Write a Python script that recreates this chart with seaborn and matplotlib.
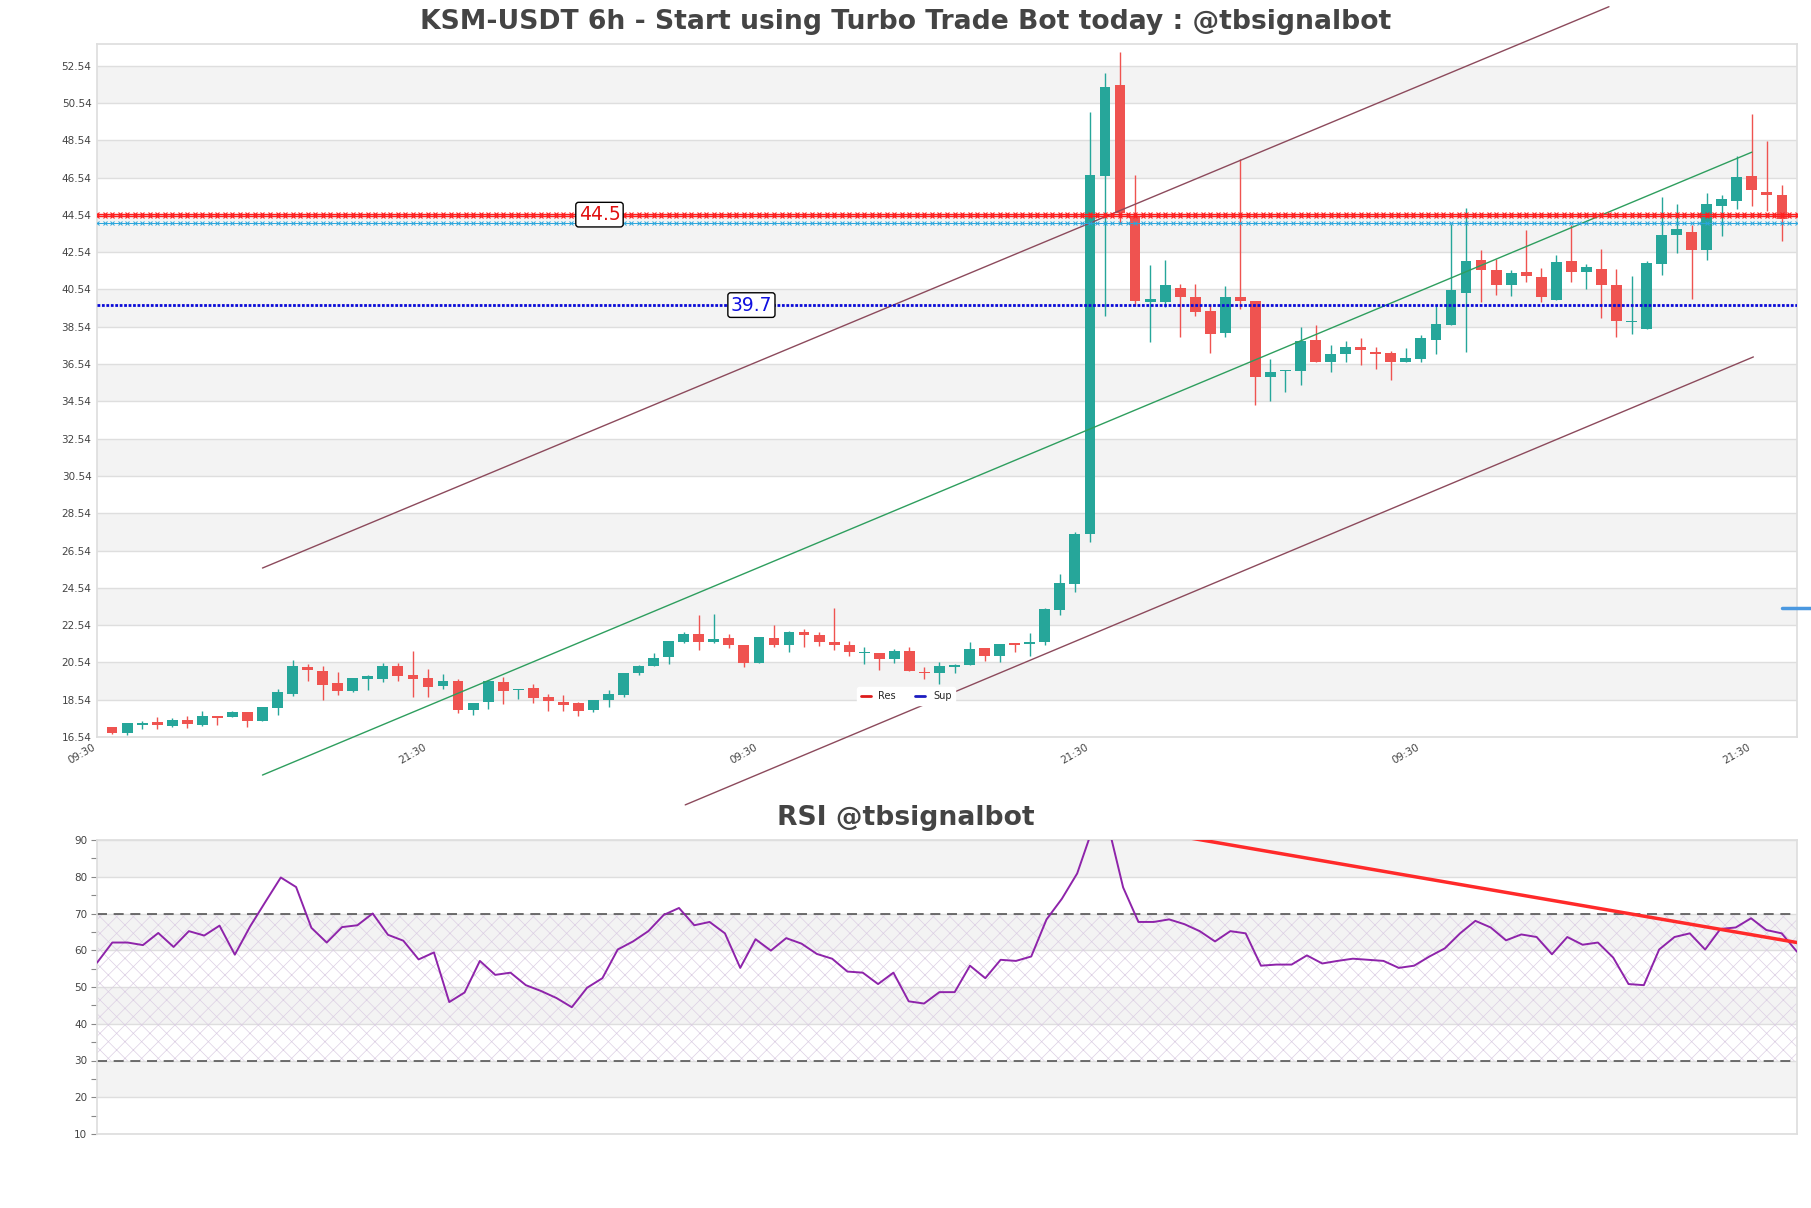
import numpy as np
import pandas as pd
import matplotlib
matplotlib.use("Agg")
import matplotlib.pyplot as plt
from matplotlib.lines import Line2D
import seaborn as sns

sns.set_theme(style="white")
plt.rcParams['font.family'] = ['DejaVu Sans']
plt.rcParams['hatch.linewidth'] = 0.5

# candles (6h)
opens = [17.06, 16.76, 17.19, 17.37, 17.13, 17.47, 17.17, 17.65, 17.62, 17.87,
         17.40, 18.10, 18.86, 20.29, 20.08, 19.43, 19.02, 19.67, 19.67, 20.35,
         19.86, 19.70, 19.27, 19.56, 18.00, 18.43, 19.49, 19.07, 19.16, 18.68,
         18.41, 18.35, 18.00, 18.50, 18.77, 19.95, 20.36, 20.81, 21.61, 22.08,
         21.63, 21.86, 21.49, 20.52, 21.86, 21.50, 22.18, 22.02, 21.65, 21.49,
         21.02, 21.04, 20.70, 21.16, 20.02, 19.95, 20.27, 20.38, 21.31, 20.86,
         21.56, 21.52, 21.66, 23.33, 24.75, 27.45, 46.62, 51.48, 44.47, 39.85,
         39.85, 40.64, 40.16, 39.40, 38.19, 40.12, 39.94, 35.86, 36.15, 36.18,
         37.85, 36.67, 37.10, 37.47, 37.20, 37.15, 36.63, 36.79, 37.81, 38.62,
         40.37, 42.12, 41.57, 40.76, 41.48, 41.22, 39.99, 42.07, 41.46, 41.64,
         40.78, 38.78, 38.42, 41.90, 43.44, 43.62, 42.64, 44.99, 45.27, 46.62,
         45.77, 45.61]
highs = [17.10, 17.31, 17.38, 17.60, 17.58, 17.64, 17.92, 17.65, 17.92, 17.87,
         18.14, 19.11, 20.67, 20.46, 20.33, 20.02, 19.70, 19.85, 20.51, 20.53,
         21.16, 20.19, 19.92, 19.67, 18.35, 19.59, 19.76, 19.13, 19.36, 18.84,
         18.77, 18.44, 18.52, 19.05, 19.99, 20.41, 21.04, 21.70, 22.17, 23.09,
         23.15, 22.08, 21.49, 21.91, 22.54, 22.25, 22.33, 22.17, 23.47, 21.70,
         21.36, 21.04, 21.25, 21.36, 20.29, 20.56, 20.47, 21.65, 21.31, 21.52,
         21.56, 22.09, 23.45, 25.29, 27.55, 50.03, 52.15, 53.26, 46.65, 41.87,
         42.14, 40.84, 40.84, 39.73, 40.73, 47.51, 39.94, 36.83, 36.24, 38.51,
         38.65, 37.54, 37.79, 37.95, 37.47, 37.24, 37.40, 38.11, 39.73, 44.04,
         44.92, 42.66, 42.16, 41.57, 43.73, 41.71, 42.40, 44.00, 41.92, 42.71,
         41.64, 41.26, 42.07, 45.50, 45.12, 44.00, 45.69, 45.61, 47.68, 49.95,
         48.50, 46.14]
lows = [16.72, 16.65, 16.97, 16.97, 17.08, 17.03, 17.13, 17.17, 17.60, 17.08,
        17.40, 17.71, 18.75, 19.56, 18.53, 18.80, 18.93, 19.07, 19.49, 19.56,
        18.68, 18.68, 19.13, 17.83, 17.73, 18.05, 18.32, 18.59, 18.37, 17.94,
        17.94, 17.65, 17.89, 18.16, 18.68, 19.84, 20.33, 20.43, 21.56, 21.18,
        21.56, 21.29, 20.27, 20.49, 21.34, 21.08, 21.34, 21.40, 21.18, 20.86,
        20.43, 20.11, 20.50, 20.06, 19.65, 19.40, 19.95, 20.38, 20.59, 20.54,
        21.08, 20.86, 21.45, 23.06, 24.30, 27.00, 39.10, 44.07, 39.64, 37.70,
        39.58, 37.97, 39.10, 37.13, 37.97, 39.49, 34.36, 34.57, 35.02, 35.39,
        36.63, 36.09, 36.67, 36.47, 36.29, 35.66, 36.63, 36.63, 37.08, 38.62,
        37.17, 39.85, 40.26, 40.17, 40.94, 39.85, 39.99, 40.92, 40.58, 39.03,
        37.97, 38.13, 38.42, 41.30, 42.48, 40.00, 42.14, 43.39, 44.85, 45.00,
        44.73, 43.12]
closes = [16.76, 17.28, 17.28, 17.19, 17.47, 17.24, 17.64, 17.56, 17.87, 17.40,
          18.14, 18.95, 20.33, 20.15, 19.34, 19.02, 19.70, 19.81, 20.35, 19.83,
          19.67, 19.22, 19.54, 18.00, 18.35, 19.56, 19.02, 19.13, 18.64, 18.48,
          18.26, 17.94, 18.52, 18.84, 19.99, 20.36, 20.79, 21.70, 22.08, 21.63,
          21.81, 21.45, 20.50, 21.91, 21.45, 22.18, 21.99, 21.61, 21.45, 21.08,
          21.09, 20.70, 21.16, 20.06, 19.95, 20.36, 20.38, 21.27, 20.86, 21.52,
          21.49, 21.63, 23.41, 24.81, 27.45, 46.65, 51.38, 44.65, 39.94, 40.01,
          40.80, 40.12, 39.31, 38.13, 40.16, 39.90, 35.86, 36.11, 36.24, 37.76,
          36.63, 37.10, 37.47, 37.27, 37.10, 36.63, 36.86, 37.95, 38.71, 40.50,
          42.09, 41.59, 40.76, 41.43, 41.25, 40.12, 42.03, 41.46, 41.74, 40.76,
          38.83, 38.83, 41.98, 43.48, 43.78, 42.64, 45.12, 45.41, 46.57, 45.86,
          45.59, 44.32]

rsi = [56.6, 62.1, 62.1, 61.4, 64.7, 60.9, 65.2, 64.0, 66.7, 58.8,
       66.5, 73.2, 79.8, 77.2, 66.1, 62.1, 66.3, 66.8, 70.0, 64.2,
       62.6, 57.5, 59.4, 45.9, 48.5, 57.1, 53.3, 53.9, 50.5, 48.9,
       47.0, 44.5, 49.8, 52.4, 60.2, 62.4, 65.2, 69.6, 71.5, 66.8,
       67.7, 64.6, 55.2, 63.0, 59.9, 63.3, 61.8, 59.0, 57.7, 54.2,
       53.9, 50.8, 53.9, 46.1, 45.5, 48.6, 48.6, 55.8, 52.4, 57.4,
       57.1, 58.3, 68.4, 74.0, 80.9, 93.0, 94.4, 77.1, 67.7, 67.7,
       68.4, 67.1, 65.2, 62.4, 65.2, 64.6, 55.8, 56.1, 56.1, 58.6,
       56.4, 57.1, 57.7, 57.4, 57.1, 55.2, 55.8, 58.3, 60.5, 64.6,
       68.0, 66.2, 62.7, 64.3, 63.6, 58.9, 63.6, 61.5, 62.1, 58.0,
       50.8, 50.5, 60.2, 63.6, 64.6, 60.2, 65.8, 66.2, 68.7, 65.5,
       64.6, 59.6]

res_levels = [44.58, 44.47]
cyan_level = 44.12
sup_level = 39.7
last_mark = 23.45

# trend channel (x = candle index, y = price)
upper_x, upper_y = [10, 99.5], [25.6, 55.7]
mid_x, mid_y = [10, 109], [14.5, 47.9]
lower_x, lower_y = [38.1, 109.1], [12.9, 36.92]
rsi_tl_x, rsi_tl_y = [66, 111], [94.4, 62.1]

xtick_pos = [-1, 21, 43, 65, 87, 109]
xtick_lab = ["09:30", "21:30", "09:30", "21:30", "09:30", "21:30"]
ytick_vals = [16.54, 18.54, 20.54, 22.54, 24.54, 26.54, 28.54, 30.54, 32.54,
              34.54, 36.54, 38.54, 40.54, 42.54, 44.54, 46.54, 48.54, 50.54, 52.54]

df = pd.DataFrame({"open": opens, "high": highs, "low": lows, "close": closes})
df["x"] = np.arange(len(df))
df["up"] = df["close"] >= df["open"]

GREEN = "#26a69a"
RED = "#ef5350"
GRID = "#dedede"
BAND = "#f3f3f3"
TXT = "#444444"
RES_C = "#ff1f1f"
SUP_C = "#0a0ad8"

fig = plt.figure(figsize=(18.11, 12.08), dpi=100)
ax = fig.add_axes([97 / 1811, 1 - 737 / 1208, 1700 / 1811, 693 / 1208])
ax2 = fig.add_axes([97 / 1811, 1 - 1134 / 1208, 1700 / 1811, 294 / 1208])

# ---- price panel
for i in range(0, len(ytick_vals) - 1):
    if i % 2 == 1:
        ax.axhspan(ytick_vals[i], ytick_vals[i + 1], color=BAND, lw=0, zorder=0)
for v in ytick_vals:
    ax.axhline(v, color=GRID, lw=1, zorder=0.5)

cols = np.where(df["up"], GREEN, RED)
ax.vlines(df["x"], df["low"], df["high"], colors=cols, lw=1, zorder=2)
body = (df["close"] - df["open"]).abs().clip(lower=0.07)
ax.bar(df["x"], body, bottom=df[["open", "close"]].min(axis=1), width=0.72,
       color=cols, zorder=3, linewidth=0)

ax.plot(upper_x, upper_y, color="#8c4a5c", lw=1, clip_on=False, zorder=4)
ax.plot(lower_x, lower_y, color="#8c4a5c", lw=1, clip_on=False, zorder=4)
ax.plot(mid_x, mid_y, color="#2e9e5e", lw=1, clip_on=False, zorder=4)

# level lines run across the whole panel
lx = np.arange(-1, len(df) + 0.01, 0.5)
ax.plot(lx, [cyan_level] * len(lx), color="#2aa5dc", lw=0.7, marker="x", ms=2.8,
        mew=0.7, zorder=5)
for lv in res_levels:
    ax.plot(lx, [lv] * len(lx), color=RES_C, lw=1.0, marker="x", ms=2.8,
            mew=0.8, zorder=5)
ax.plot(lx, [sup_level] * len(lx), color=SUP_C, lw=2, ls=(0, (1, 0.6)), zorder=5)
ax.plot([111, 113], [last_mark, last_mark], color="#4a98e0", lw=2.5,
        clip_on=False, zorder=5)

box = dict(boxstyle="round,pad=0.15", fc="white", ec="black", lw=1)
ax.text(32.4, 44.55, "44.5", color="#e01010", fontsize=13.5, ha="center",
        va="center", bbox=box, zorder=6)
ax.text(42.5, 39.7, "39.7", color="#1010e0", fontsize=13.5, ha="center",
        va="center", bbox=box, zorder=6)

handles = [Line2D([], [], color="#dd1c1c", lw=2), Line2D([], [], color="#1c1cc0", lw=2)]
leg = ax.legend(handles, ["Res", "Sup"], loc="center", bbox_to_anchor=(0.476, 0.059),
                ncol=2, fontsize=7, frameon=True, handlelength=1, columnspacing=2)
leg.get_frame().set_edgecolor("white")
leg.get_frame().set_facecolor("white")
leg.get_frame().set_alpha(1)
leg.set_zorder(7)

ax.set_xlim(-1, len(df))
ax.set_ylim(16.54, 53.7)
ax.set_yticks(ytick_vals)
ax.set_yticklabels([f"{v:.2f}" for v in ytick_vals])
ax.set_xticks(xtick_pos)
ax.set_xticklabels(xtick_lab, rotation=30, ha="right")
ax.tick_params(axis="both", length=0, labelsize=7.5, colors=TXT, pad=4)
for s in ax.spines.values():
    s.set_color(GRID)

# ---- RSI panel
rsi_df = pd.DataFrame({"i": np.arange(len(rsi)), "rsi": rsi})
for lo, hi in [(20, 30), (40, 50), (60, 70), (80, 90)]:
    ax2.axhspan(lo, hi, color=BAND, lw=0, zorder=0)
for v in range(10, 100, 10):
    ax2.axhline(v, color=GRID, lw=1, zorder=0.5)
ax2.fill_between([0, len(rsi) - 1], 30, 70, facecolor="none", hatch="xx",
                 edgecolor="#dccfe4", linewidth=0, zorder=1)
ax2.axhline(70, color="#555555", lw=1.2, ls=(0, (6, 4)), zorder=2)
ax2.axhline(30, color="#555555", lw=1.2, ls=(0, (6, 4)), zorder=2)
sns.lineplot(data=rsi_df, x="i", y="rsi", ax=ax2, color="#8e24aa", lw=1.4,
             zorder=3)
ax2.plot(rsi_tl_x, rsi_tl_y, color="#ff2a2a", lw=2.5, zorder=4)

ax2.set_xlim(0, len(rsi) - 1)
ax2.set_ylim(10, 90)
ax2.set_yticks(range(10, 100, 10))
ax2.set_yticks(range(15, 90, 10), minor=True)
ax2.set_xticks([])
ax2.set_xlabel("")
ax2.set_ylabel("")
ax2.tick_params(axis="y", which="both", left=True, length=4, width=0.8,
                color="#888888", labelsize=7.5, labelcolor=TXT, pad=3)
for s in ax2.spines.values():
    s.set_color(GRID)

fig.text(0.5, 1 - 22 / 1208, "KSM-USDT 6h - Start using Turbo Trade Bot today : @tbsignalbot",
         ha="center", va="center", fontsize=19.2, fontweight="bold", color=TXT)
fig.text(0.5, 1 - 818 / 1208, "RSI @tbsignalbot", ha="center", va="center",
         fontsize=19.2, fontweight="bold", color=TXT)

fig.savefig("out.png", dpi=100, facecolor="white")
